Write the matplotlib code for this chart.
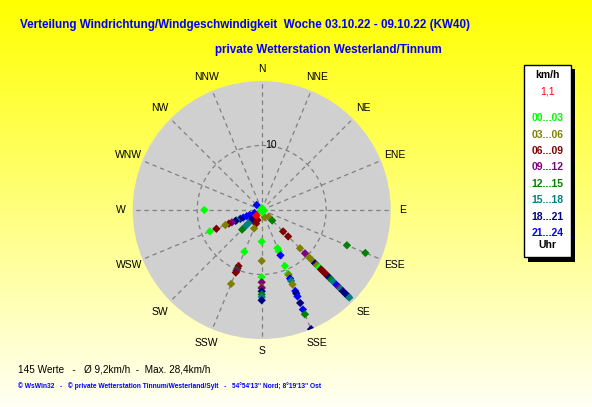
import numpy as np
import matplotlib
matplotlib.use("Agg")
import matplotlib.pyplot as plt
from matplotlib.patches import Rectangle

plt.rcParams['font.family'] = ['Liberation Sans', 'DejaVu Sans']

# wind direction (deg), speed (km/h) and hour class (0 = 00...03 ... 7 = 21...24)
directions = [0, 0, 315,
              247.5, 247.5, 247.5, 247.5, 247.5, 247.5, 247.5, 247.5, 247.5, 247.5, 247.5, 247.5,
              270,
              225, 225, 225, 225, 225, 225,
              202.5, 202.5, 202.5, 202.5, 202.5, 202.5, 202.5, 202.5, 202.5, 202.5,
              180, 180, 180, 180, 180, 180, 180, 180, 180, 180,
              157.5, 157.5, 157.5, 157.5, 157.5, 157.5, 157.5, 157.5, 157.5, 157.5,
              157.5, 157.5, 157.5, 157.5, 157.5, 157.5, 157.5,
              135, 135, 135, 135, 135, 135, 135, 135, 135, 135, 135, 135, 135,
              135, 135, 135, 135, 135, 135, 135, 135, 135, 135, 135, 135,
              112.5, 112.5]
speeds = [0.0, 0.3, 1.1,
          1.2, 2.0, 2.5, 3.1, 3.6, 4.2, 4.4, 5.0, 5.5, 6.1, 7.6, 8.7,
          8.9,
          1.2, 1.9, 2.2, 2.9, 3.6, 4.3,
          1.7, 2.3, 3.1, 7.0, 9.4, 9.8, 10.1, 10.2, 10.5, 12.4,
          4.9, 7.9, 10.4, 11.2, 12.0, 12.1, 12.6, 13.1, 13.5, 14.0,
          1.2, 6.4, 6.9, 7.6, 9.4, 10.7, 10.9, 11.5, 11.9, 12.5,
          13.6, 14.0, 14.5, 15.6, 16.7, 17.5, 20.0,
          1.5, 2.3, 4.7, 5.8, 8.4, 9.5, 10.4, 11.0, 11.7, 12.1, 12.6, 13.0, 13.4,
          13.9, 14.3, 14.8, 15.2, 15.6, 16.4, 17.0, 17.3, 17.8, 18.4, 18.8, 19.2,
          14.3, 17.4]
hour_class = [0, 0, 7,
              7, 7, 7, 7, 6, 5, 6, 3, 2, 1, 2, 0,
              0,
              7, 3, 6, 5, 5, 4,
              2, 2, 1, 0, 2, 2, 4, 3, 2, 1,
              0, 1, 0, 3, 1, 3, 6, 4, 5, 6,
              1, 0, 0, 7, 0, 0, 1, 7, 5, 1,
              7, 6, 7, 6, 7, 4, 6,
              1, 4, 2, 2, 1, 3, 1, 1, 6, 1, 0, 2, 2,
              2, 2, 6, 4, 5, 7, 3, 5, 6, 6, 6, 5,
              4, 4]

mean_dir = 230
mean_speed = 1.1

class_labels = ["00...03", "03...06", "06...09", "09...12",
                "12...15", "15...18", "18...21", "21...24"]
class_colors = ["#00FF00", "#808000", "#800000", "#800080",
                "#008000", "#008080", "#000080", "#0000FF"]

compass = ["N", "NNE", "NE", "ENE", "E", "ESE", "SE", "SSE",
           "S", "SSW", "SW", "WSW", "W", "WNW", "NW", "NNW"]

W, H = 592, 407
fig = plt.figure(figsize=(W / 100, H / 100), dpi=100)

# yellow gradient background
bg = fig.add_axes([0, 0, 1, 1])
grad = np.linspace(0, 1, 256)[:, None]
top = np.array([1.0, 1.0, 0.0])
bottom = np.array([1.0, 1.0, 0.96])
img = top[None, None, :] * (1 - grad[:, :, None]) + bottom[None, None, :] * grad[:, :, None]
bg.imshow(img, aspect='auto', extent=[0, 1, 0, 1])
bg.set_axis_off()

def fx(x):
    return x / W

def fy(y):
    return 1 - y / H

cx, cy, rad = 261.7, 210, 129
ax = fig.add_axes([fx(cx - rad), fy(cy + rad), 2 * rad / W, 2 * rad / H], projection='polar')
ax.set_theta_zero_location('N')
ax.set_theta_direction(-1)
ax.set_facecolor('#D0D0D0')
ax.set_ylim(0, 20)
ax.spines['polar'].set_visible(False)
ax.set_thetagrids(np.arange(0, 360, 22.5), [''] * 16)
ax.set_rgrids([10], [''])
ax.grid(True, color='#808080', linestyle=(0, (3.5, 3)), linewidth=0.9)

th = np.radians(directions)
cols = [class_colors[c] for c in hour_class]
ax.scatter(th, speeds, c=cols, marker='D', s=18, linewidths=0, zorder=3)
ax.scatter([0], [0], c=class_colors[0], marker='D', s=36, linewidths=0, zorder=4)
ax.scatter([np.radians(mean_dir)], [mean_speed], c='#FF0000', marker='D', s=18,
           linewidths=0, zorder=5)

for i, name in enumerate(compass):
    r = 21.8 if i % 4 == 0 else 22.3
    ax.text(np.radians(i * 22.5), r, name, ha='center', va='center',
            fontsize=7.5, clip_on=False)
ax.text(np.radians(8), 10.2, "10", ha='center', va='center', fontsize=7.5)

# titles
fig.text(fx(20), fy(25), "Verteilung Windrichtung/Windgeschwindigkeit  Woche 03.10.22 - 09.10.22 (KW40)",
         color='#0000FF', fontsize=8.4, fontweight='bold', ha='left', va='center')
fig.text(fx(215), fy(50), "private Wetterstation Westerland/Tinnum",
         color='#0000FF', fontsize=8.4, fontweight='bold', ha='left', va='center')

# legend box with shadow
fig.patches.append(Rectangle((fx(528), fy(261.5)), fx(575) - fx(528), fy(69) - fy(261.5),
                             transform=fig.transFigure, facecolor='black', edgecolor='none'))
fig.patches.append(Rectangle((fx(524), fy(257)), fx(571) - fx(524), fy(65) - fy(257),
                             transform=fig.transFigure, facecolor='white', edgecolor='black',
                             linewidth=1))
lx = 547.5
fig.text(fx(lx), fy(75), "km/h", fontsize=7.5, fontweight='bold', ha='center', va='center')
fig.text(fx(lx), fy(92), "1,1", fontsize=7.5, color='#FF0000', ha='center', va='center')
for i, (lab, col) in enumerate(zip(class_labels, class_colors)):
    fig.text(fx(lx), fy(118.3 + i * 16.4), lab, fontsize=7.5, fontweight='bold',
             color=col, ha='center', va='center')
fig.text(fx(lx), fy(245), "Uhr", fontsize=7.5, fontweight='bold', ha='center', va='center')

# footer
fig.text(fx(18), fy(369.5), "145 Werte   -   \u00d8 9,2km/h  -  Max. 28,4km/h",
         fontsize=7.2, ha='left', va='center')
fig.text(fx(18), fy(386), "\u00a9 WsWin32   -   \u00a9 private Wetterstation Tinnum/Westerland/Sylt   -   "
         "54\u00b054'13'' Nord; 8\u00b019'13'' Ost",
         fontsize=4.8, fontweight='bold', color='#0000FF', ha='left', va='center')

fig.savefig("out.png", dpi=100)
